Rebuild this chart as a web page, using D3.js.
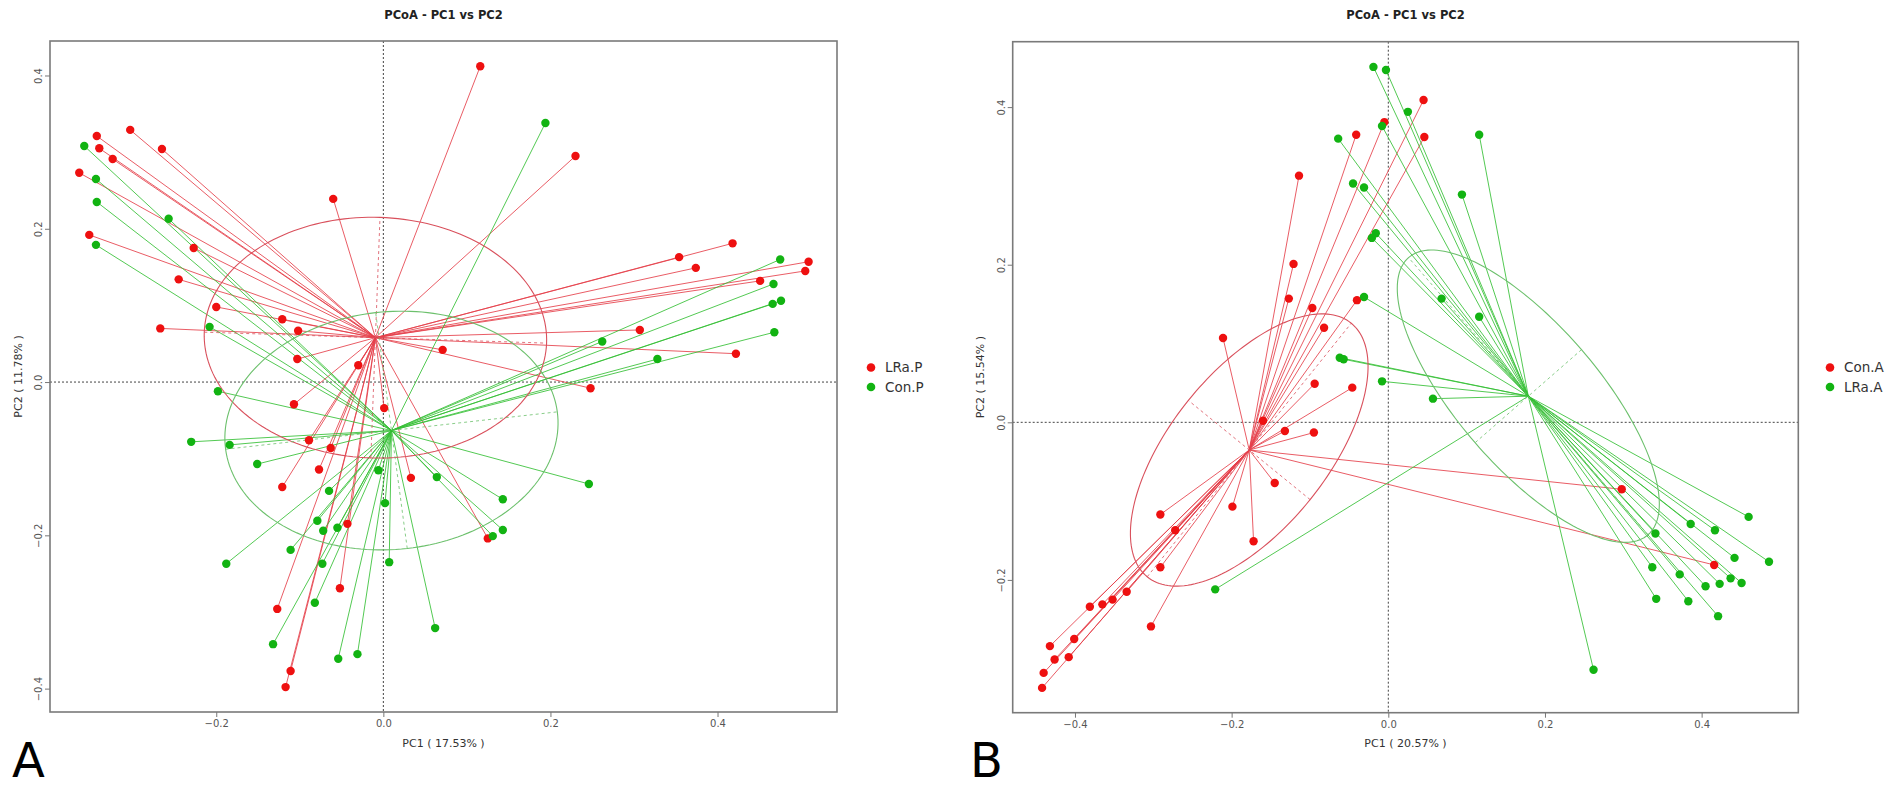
<!DOCTYPE html>
<html>
<head>
<meta charset="utf-8">
<script src="https://cdn.jsdelivr.net/npm/d3@7"></script>
<style>
  body { margin: 0; background: #fff; }
  text { font-family: "DejaVu Sans", sans-serif; }
</style>
</head>
<body>
<svg id="chart" width="1902" height="789"></svg>
<script>
// ---- data (PC1, PC2) ----
// panel A
const lraP = [
  [0.116, 0.412], [-0.303, 0.329], [-0.343, 0.321], [-0.340, 0.305], [-0.265, 0.304],
  [-0.324, 0.291], [-0.364, 0.273], [-0.060, 0.239], [-0.352, 0.192], [-0.227, 0.175],
  [-0.245, 0.134], [-0.200, 0.098], [-0.121, 0.082], [-0.267, 0.070], [-0.102, 0.067],
  [-0.103, 0.030], [0.071, 0.042], [-0.030, 0.022], [-0.107, -0.029], [0.001, -0.034],
  [-0.089, -0.076], [-0.063, -0.086], [-0.077, -0.114], [0.033, -0.125], [-0.121, -0.137],
  [-0.043, -0.185], [0.125, -0.204], [-0.052, -0.269], [-0.127, -0.296], [-0.111, -0.377],
  [-0.117, -0.398], [0.230, 0.295], [0.418, 0.181], [0.354, 0.163], [0.509, 0.157],
  [0.374, 0.149], [0.505, 0.145], [0.451, 0.132], [0.307, 0.068], [0.422, 0.037],
  [0.248, -0.008]
];
const conP = [
  [-0.358, 0.308], [-0.344, 0.265], [-0.343, 0.235], [-0.257, 0.213], [-0.344, 0.179],
  [-0.208, 0.072], [-0.198, -0.012], [-0.230, -0.078], [-0.184, -0.082], [-0.151, -0.107],
  [0.064, -0.124], [-0.006, -0.115], [-0.065, -0.142], [0.002, -0.158], [-0.079, -0.181],
  [-0.055, -0.190], [-0.072, -0.194], [0.131, -0.201], [-0.111, -0.219], [-0.188, -0.237],
  [-0.073, -0.237], [0.007, -0.235], [-0.082, -0.288], [0.062, -0.321], [-0.132, -0.342],
  [-0.031, -0.355], [-0.054, -0.361], [0.194, 0.338], [0.475, 0.160], [0.467, 0.128],
  [0.476, 0.106], [0.466, 0.102], [0.468, 0.065], [0.262, 0.053], [0.328, 0.030],
  [0.246, -0.133], [0.143, -0.153], [0.143, -0.193]
];
// panel B
const conA = [
  [0.045, 0.409], [0.046, 0.362], [-0.005, 0.381], [-0.041, 0.365], [-0.114, 0.313],
  [-0.121, 0.201], [-0.127, 0.157], [-0.097, 0.145], [-0.040, 0.155], [-0.082, 0.120],
  [-0.211, 0.107], [-0.094, 0.049], [-0.046, 0.044], [-0.160, 0.002], [-0.132, -0.011],
  [-0.095, -0.013], [-0.145, -0.077], [-0.199, -0.107], [-0.291, -0.117], [-0.272, -0.137],
  [-0.172, -0.151], [-0.291, -0.184], [-0.334, -0.215], [-0.352, -0.225], [-0.365, -0.231],
  [-0.381, -0.234], [-0.303, -0.259], [-0.401, -0.275], [-0.432, -0.284], [-0.426, -0.301],
  [-0.408, -0.298], [-0.440, -0.318], [-0.442, -0.337], [0.298, -0.085], [0.416, -0.181]
];
const lraA = [
  [-0.019, 0.451], [-0.003, 0.447], [0.025, 0.394], [-0.008, 0.376], [-0.064, 0.360],
  [-0.045, 0.303], [-0.031, 0.298], [-0.016, 0.240], [-0.021, 0.234], [-0.031, 0.159],
  [-0.062, 0.082], [-0.057, 0.080], [-0.008, 0.052], [0.057, 0.030], [0.068, 0.157],
  [0.116, 0.365], [0.094, 0.289], [0.116, 0.134], [-0.221, -0.212], [0.460, -0.120],
  [0.386, -0.129], [0.417, -0.137], [0.341, -0.141], [0.442, -0.172], [0.486, -0.177],
  [0.337, -0.184], [0.372, -0.193], [0.437, -0.198], [0.451, -0.204], [0.423, -0.205],
  [0.405, -0.208], [0.342, -0.224], [0.383, -0.227], [0.421, -0.246], [0.262, -0.314]
];

// ellipses: [semi-major, semi-minor, angle in degrees]
const ellLraP = [0.205, 0.157, -2];
const ellConP = [0.200, 0.155, 7];
const ellConA = [0.207, 0.100, 51];
const ellLraA = [0.233, 0.090, 131];

// axis limits and ticks
const xDomA = [-0.399, 0.543], yDomA = [-0.4305, 0.445];
const xDomB = [-0.4795, 0.5234], yDomB = [-0.3685, 0.483];
const xTicksA = [-0.2, 0, 0.2, 0.4], yTicksA = [-0.4, -0.2, 0, 0.2, 0.4];
const xTicksB = [-0.4, -0.2, 0, 0.2, 0.4], yTicksB = [-0.2, 0, 0.2, 0.4];

const RED = "#ee1010", GREEN = "#12b312";

const panels = [
  {
    box: { left: 50, right: 837, top: 41, bottom: 712 },
    xDom: xDomA, yDom: yDomA, xTicks: xTicksA, yTicks: yTicksA,
    xLab: "PC1 ( 17.53% )", yLab: "PC2 ( 11.78% )", yLabX: 18,
    letter: "A", letterX: 12,
    legendX: 871,
    groups: [
      { name: "LRa.P", pts: lraP, ell: ellLraP, color: RED, line: "#e5404a", ellColor: "#d9505c" },
      { name: "Con.P", pts: conP, ell: ellConP, color: GREEN, line: "#35c035", ellColor: "#6cc06c" }
    ]
  },
  {
    box: { left: 1012.7, right: 1798.3, top: 41.7, bottom: 712.7 },
    xDom: xDomB, yDom: yDomB, xTicks: xTicksB, yTicks: yTicksB,
    xLab: "PC1 ( 20.57% )", yLab: "PC2 ( 15.54% )", yLabX: 980,
    letter: "B", letterX: 970,
    legendX: 1830,
    groups: [
      { name: "Con.A", pts: conA, ell: ellConA, color: RED, line: "#e5404a", ellColor: "#d9505c" },
      { name: "LRa.A", pts: lraA, ell: ellLraA, color: GREEN, line: "#35c035", ellColor: "#6cc06c" }
    ]
  }
];

const svg = d3.select("#chart");
svg.append("rect").attr("width", 1902).attr("height", 789).attr("fill", "#fff");

const line = d3.line();

panels.forEach(p => {
  const b = p.box;
  const x = d3.scaleLinear().domain(p.xDom).range([b.left, b.right]);
  const y = d3.scaleLinear().domain(p.yDom).range([b.bottom, b.top]);
  const g = svg.append("g");
  const midX = (b.left + b.right) / 2, midY = (b.top + b.bottom) / 2;

  // title
  g.append("text").attr("x", midX).attr("y", 19).attr("text-anchor", "middle")
    .attr("font-size", 11.5).attr("font-weight", "bold").attr("fill", "#222")
    .text("PCoA - PC1 vs PC2");

  // zero lines
  g.append("line").attr("x1", b.left).attr("x2", b.right).attr("y1", y(0)).attr("y2", y(0))
    .attr("stroke", "#444").attr("stroke-dasharray", "2,2").attr("stroke-width", 1);
  g.append("line").attr("x1", x(0)).attr("x2", x(0)).attr("y1", b.top).attr("y2", b.bottom)
    .attr("stroke", "#444").attr("stroke-dasharray", "2,2").attr("stroke-width", 1);

  const centroids = p.groups.map(gr => [d3.mean(gr.pts, d => d[0]), d3.mean(gr.pts, d => d[1])]);

  // spider lines
  p.groups.forEach((gr, i) => {
    const c = centroids[i];
    g.append("g").selectAll("line").data(gr.pts).enter().append("line")
      .attr("x1", x(c[0])).attr("y1", y(c[1]))
      .attr("x2", d => x(d[0])).attr("y2", d => y(d[1]))
      .attr("stroke", gr.line).attr("stroke-width", 1).attr("stroke-opacity", 0.85);
  });

  // ellipses + their axes
  p.groups.forEach((gr, i) => {
    const c = centroids[i];
    const [a, bb, ang] = gr.ell;
    const phi = ang * Math.PI / 180;
    const toXY = (u, v) => [x(c[0] + u * Math.cos(phi) - v * Math.sin(phi)),
                            y(c[1] + u * Math.sin(phi) + v * Math.cos(phi))];
    const ring = d3.range(0, 361, 2).map(t => {
      const r = t * Math.PI / 180;
      return toXY(a * Math.cos(r), bb * Math.sin(r));
    });
    g.append("path").attr("d", line(ring)).attr("fill", "none")
      .attr("stroke", gr.ellColor).attr("stroke-width", 1.1);
    [[toXY(-a, 0), toXY(a, 0)], [toXY(0, -bb), toXY(0, bb)]].forEach(seg => {
      g.append("path").attr("d", line(seg)).attr("fill", "none")
        .attr("stroke", gr.ellColor).attr("stroke-width", 1)
        .attr("stroke-dasharray", "3,3").attr("stroke-opacity", 0.8);
    });
  });

  // points
  p.groups.forEach(gr => {
    g.append("g").selectAll("circle").data(gr.pts).enter().append("circle")
      .attr("cx", d => x(d[0])).attr("cy", d => y(d[1])).attr("r", 4.2)
      .attr("fill", gr.color);
  });

  // box
  g.append("rect").attr("x", b.left).attr("y", b.top)
    .attr("width", b.right - b.left).attr("height", b.bottom - b.top)
    .attr("fill", "none").attr("stroke", "#7a7a7a").attr("stroke-width", 1.6);

  // axes
  const xa = g.append("g").attr("transform", `translate(0,${b.bottom})`)
    .call(d3.axisBottom(x).tickValues(p.xTicks).tickFormat(d3.format(".1f")).tickSize(5).tickPadding(3));
  const ya = g.append("g").attr("transform", `translate(${b.left},0)`)
    .call(d3.axisLeft(y).tickValues(p.yTicks).tickFormat(d3.format(".1f")).tickSize(5));
  [xa, ya].forEach(ax => {
    ax.select(".domain").remove();
    ax.selectAll("line").attr("stroke", "#777");
    ax.selectAll("text").attr("fill", "#555").attr("font-size", 10)
      .attr("font-family", "DejaVu Sans, sans-serif");
  });
  ya.selectAll("text").attr("transform", "rotate(-90)").attr("x", 0).attr("y", -8)
    .attr("dy", 0).attr("text-anchor", "middle");

  // axis titles
  g.append("text").attr("x", midX).attr("y", 747).attr("text-anchor", "middle")
    .attr("font-size", 11).attr("fill", "#333").text(p.xLab);
  g.append("text").attr("transform", `translate(${p.yLabX + 4},${midY}) rotate(-90)`)
    .attr("text-anchor", "middle").attr("font-size", 11).attr("fill", "#333").text(p.yLab);

  // legend
  p.groups.forEach((gr, i) => {
    const ly = 367.5 + i * 19.5;
    g.append("circle").attr("cx", p.legendX).attr("cy", ly).attr("r", 4.3).attr("fill", gr.color);
    g.append("text").attr("x", p.legendX + 14).attr("y", ly + 4.8)
      .attr("font-size", 13.5).attr("fill", "#333").text(gr.name);
  });

  // panel letter
  svg.append("text").attr("x", p.letterX).attr("y", 777)
    .attr("font-family", "Liberation Serif, serif").attr("font-size", 48)
    .attr("fill", "#000").text(p.letter);
});
</script>
</body>
</html>
